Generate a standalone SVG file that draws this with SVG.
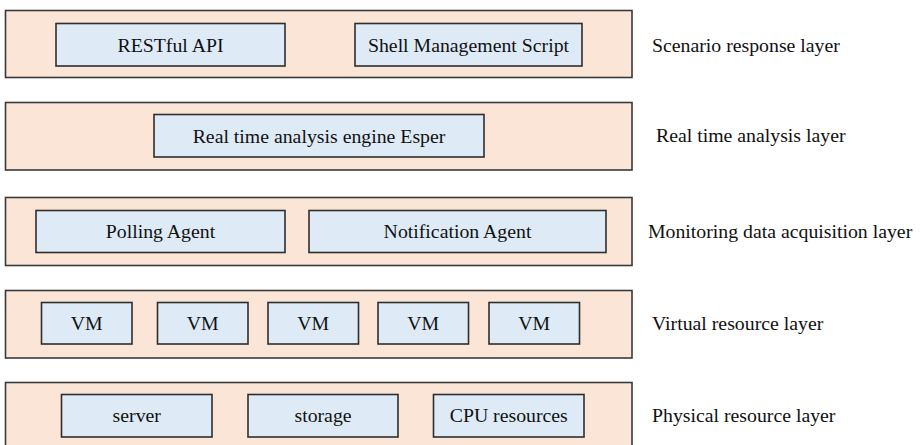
<svg xmlns="http://www.w3.org/2000/svg" width="920" height="445" viewBox="0 0 920 445">
<style>
.layer{fill:#FBE5D6;stroke:#3a3a3a;stroke-width:1.6}
.box{fill:#DEEBF7;stroke:#2e2e2e;stroke-width:1.6}
text{font-family:"Liberation Serif","Times New Roman",serif;font-size:19.8px;fill:#111}
.c{text-anchor:middle}
</style>
<rect width="920" height="445" fill="#ffffff"/>
<g id="layer-scenario">
<rect class="layer" x="5.5" y="10.5" width="626.5" height="67"/>
<g id="restful"><rect class="box" x="56" y="23.5" width="229" height="42.5"/><text class="c" x="170.5" y="51.5">RESTful API</text></g>
<g id="shell"><rect class="box" x="355" y="23.5" width="227" height="42.5"/><text class="c" x="468.5" y="51.5">Shell Management Script</text></g>
<text x="652" y="52">Scenario response layer</text>
</g>
<g id="layer-realtime">
<rect class="layer" x="5.5" y="102.5" width="626.5" height="67.5"/>
<g id="esper"><rect class="box" x="154" y="114.5" width="330" height="42.5"/><text class="c" x="319" y="142.5">Real time analysis engine Esper</text></g>
<text x="656" y="142">Real time analysis layer</text>
</g>
<g id="layer-monitoring">
<rect class="layer" x="5.5" y="197.5" width="626.5" height="68"/>
<g id="polling"><rect class="box" x="36" y="210.5" width="249" height="42"/><text class="c" x="160.5" y="238">Polling Agent</text></g>
<g id="notification"><rect class="box" x="309" y="210.5" width="297" height="42"/><text class="c" x="457.5" y="238">Notification Agent</text></g>
<text x="648" y="238">Monitoring data acquisition layer</text>
</g>
<g id="layer-virtual">
<rect class="layer" x="5.5" y="290.5" width="626.5" height="67.5"/>
<g id="vm1"><rect class="box" x="41.5" y="302.5" width="90.5" height="41.5"/><text class="c" x="86.75" y="330">VM</text></g>
<g id="vm2"><rect class="box" x="157.5" y="302.5" width="90.5" height="41.5"/><text class="c" x="202.75" y="330">VM</text></g>
<g id="vm3"><rect class="box" x="268" y="302.5" width="90.5" height="41.5"/><text class="c" x="313.25" y="330">VM</text></g>
<g id="vm4"><rect class="box" x="378" y="302.5" width="90.5" height="41.5"/><text class="c" x="423.25" y="330">VM</text></g>
<g id="vm5"><rect class="box" x="489" y="302.5" width="90.5" height="41.5"/><text class="c" x="534.25" y="330">VM</text></g>
<text x="652" y="330">Virtual resource layer</text>
</g>
<g id="layer-physical">
<rect class="layer" x="5.5" y="382.5" width="626.5" height="70"/>
<g id="server"><rect class="box" x="61.5" y="394.5" width="150.5" height="42.5"/><text class="c" x="136.75" y="422">server</text></g>
<g id="storage"><rect class="box" x="248" y="394.5" width="150" height="42.5"/><text class="c" x="323" y="422">storage</text></g>
<g id="cpu"><rect class="box" x="433.5" y="394.5" width="150.5" height="42.5"/><text class="c" x="508.75" y="422">CPU resources</text></g>
<text x="652" y="422">Physical resource layer</text>
</g>
<g id="connectors"></g>
</svg>
